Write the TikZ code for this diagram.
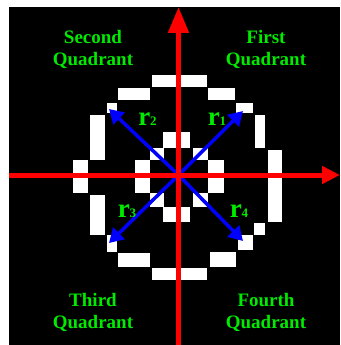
\documentclass[tikz,border=0pt]{standalone}
\usepackage{fontspec}
\setmainfont{Liberation Serif}
\usetikzlibrary{arrows.meta}
\definecolor{quadgreen}{RGB}{0,235,0}
\definecolor{axisred}{RGB}{255,0,0}
\definecolor{radblue}{RGB}{0,0,255}
\newcommand{\rname}[1]{{\fontsize{27}{30}\selectfont\bfseries r}{\fontsize{13}{15}\selectfont\bfseries #1}}

\begin{document}
\begin{tikzpicture}[x=1pt, y=-1pt,
  quad/.style={text=quadgreen, font=\fontsize{19}{22}\selectfont\bfseries, align=center},
  rlab/.style={text=quadgreen, anchor=base, inner sep=0pt},
  axisline/.style={axisred, line width=5pt},
  radarrow/.style={radblue, line width=3.5pt, -{Triangle[length=14pt,width=16pt]}}]
\useasboundingbox (0,0) rectangle (340,345);
\fill[black] (9,7) rectangle (340,345);
% outer ring
\foreach \xa/\ya/\xb/\yb in {152/75/207/87, 118/88/150/100, 208/88/235/100,
  107/103/117/113, 236/103/253/113, 90/115/105/160, 255/115/265/148,
  73/160/88/193, 268/150/282/222, 90/195/105/235, 254/223/265/235,
  107/235/117/252, 238/235/253/250, 118/253/150/267, 210/252/236/267,
  152/268/207/280}
  {\fill[white] (\xa,\ya) rectangle (\xb,\yb);}
% inner ring
\foreach \xa/\ya/\xb/\yb in {163/132/190/148, 150/148/164/160, 193/148/208/160,
  135/160/150/193, 208/160/224/193, 150/193/164/207, 193/193/208/207,
  163/207/190/222}
  {\fill[white] (\xa,\ya) rectangle (\xb,\yb);}

\coordinate (o) at (178.5,175);
\coordinate (t1) at (243,111);
\coordinate (t2) at (109,109);
\coordinate (t3) at (109,243);
\coordinate (t4) at (243,241);
\foreach \t in {t1,t2,t3,t4} {\draw[radarrow] (o) -- (\t);}

\coordinate (ybot) at (178.5,345);
\coordinate (ytop) at (178.5,7);
\coordinate (xleft) at (9,175);
\coordinate (xright) at (340,175);
\draw[axisline, -{Triangle[length=26pt,width=20pt]}] (ybot) -- (ytop);
\draw[axisline, -{Triangle[length=18pt,width=17pt]}] (xleft) -- (xright);

\node[rlab] (r1) at (217,125) {\rname{1}};
\node[rlab] (r2) at (147.5,125) {\rname{2}};
\node[rlab] (r3) at (127,217) {\rname{3}};
\node[rlab] (r4) at (239,217) {\rname{4}};

\node[quad] (q1) at (266,49.5) {First\\Quadrant};
\node[quad] (q2) at (93,49.5) {Second\\Quadrant};
\node[quad] (q3) at (93,312.5) {Third\\Quadrant};
\node[quad] (q4) at (266,312.5) {Fourth\\Quadrant};
\end{tikzpicture}
\end{document}
